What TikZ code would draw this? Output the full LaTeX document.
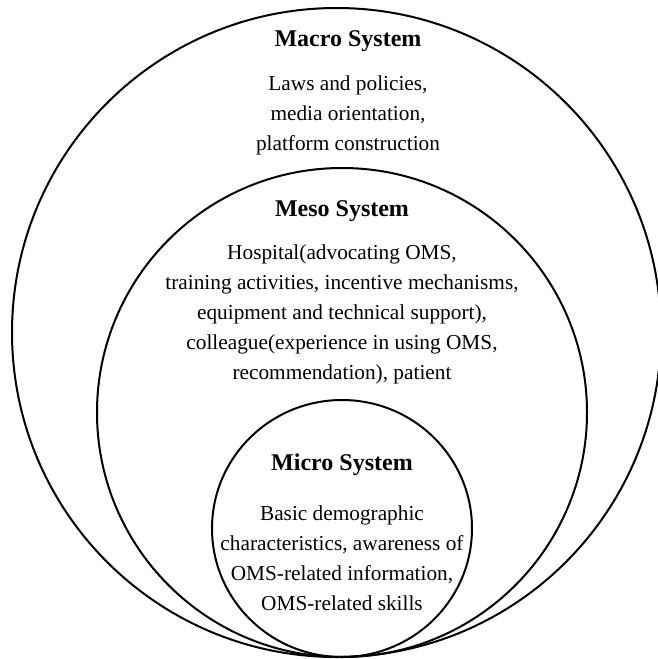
\documentclass[tikz,border=0pt]{standalone}
\usepackage{fontspec}
\setmainfont{Liberation Serif}
\begin{document}
\begin{tikzpicture}[x=1pt,y=-1pt,
  ring/.style={draw, line width=2pt},
  title/.style={font=\fontsize{24}{28}\selectfont\bfseries, inner sep=0pt, anchor=base},
  body/.style={align=center, font=\fontsize{21.3}{30}\selectfont, inner sep=0pt, anchor=base}]
\useasboundingbox (0,0) rectangle (658,659);
\fill[white] (0,0) rectangle (658,659);
\draw[ring] (336.5,332.5) ellipse [x radius=324.5pt, y radius=324.5pt];
\draw[ring] (342,412.5) ellipse [x radius=245pt, y radius=244.5pt];
\draw[ring] (342,528.5) ellipse [x radius=130pt, y radius=128.5pt];
\node[title] (macroT) at (348,46.7) {Macro System};
\node[body] (macroB) at (348,150.7) {Laws and policies,\\media orientation,\\platform construction};
\node[title] (mesoT) at (342,216.7) {Meso System};
\node[body] (mesoB) at (342,379) {Hospital(advocating OMS,\\training activities, incentive mechanisms,\\equipment and technical support),\\colleague(experience in using OMS,\\recommendation), patient};
\node[title] (microT) at (342,470.7) {Micro System};
\node[body] (microB) at (342,610.7) {Basic demographic\\characteristics, awareness of\\OMS-related information,\\OMS-related skills};
\end{tikzpicture}
\end{document}
